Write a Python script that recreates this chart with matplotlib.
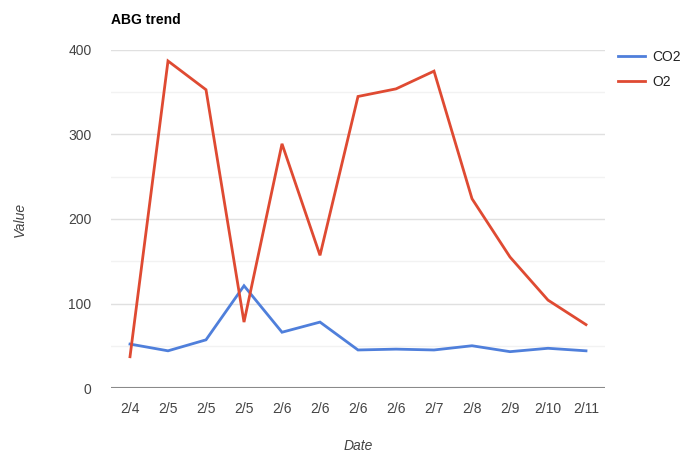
import matplotlib
matplotlib.use("Agg")
import matplotlib.pyplot as plt
from matplotlib.lines import Line2D

plt.rcParams['font.family'] = ['Liberation Sans', 'DejaVu Sans']

dates = ["2/4", "2/5", "2/5", "2/5", "2/6", "2/6", "2/6", "2/6", "2/7", "2/8", "2/9", "2/10", "2/11"]
co2 = [52, 44, 57, 121, 66, 78, 45, 46, 45, 50, 43, 47, 44]
o2 = [37, 387, 353, 78, 289, 157, 345, 354, 375, 224, 155, 104, 75]

blue = "#4f7fdb"
red = "#df4a32"

fig = plt.figure(figsize=(6.8, 4.58), dpi=100)
ax = fig.add_axes([111/680, 1-388/458, (605-111)/680, (388-50)/458])

x = list(range(len(dates)))
ax.plot(x, co2, color=blue, lw=2, solid_joinstyle='miter', zorder=3)
ax.plot(x, o2, color=red, lw=2, solid_joinstyle='miter', zorder=3)

ax.set_xlim(-0.5, len(dates) - 0.5)
ax.set_ylim(0, 400)
for v in [50, 150, 250, 350]:
    ax.axhline(v, color="#f2f2f2", lw=1, zorder=1)
for v in [100, 200, 300, 400]:
    ax.axhline(v, color="#e0e0e0", lw=1, zorder=1)
ax.axhline(0, color="#8a8a8a", lw=1.5, zorder=2)

for s in ax.spines.values():
    s.set_visible(False)
ax.set_yticks([0, 100, 200, 300, 400])
ax.set_xticks(x)
ax.set_xticklabels(dates)
ax.tick_params(axis='both', length=0, labelsize=10, labelcolor="#444444")
ax.tick_params(axis='y', pad=14)
ax.tick_params(axis='x', pad=10)

fig.text(358/680, 1-446/458, "Date", fontsize=10, style='italic', color="#444444",
         ha='center', va='center')
ax.set_ylabel("Value", fontsize=10, style='italic', color="#444444", labelpad=30)

fig.text(111/680, 1-20/458, "ABG trend", fontsize=10, fontweight='bold', color="#000000", va='center')

handles = [Line2D([], [], color=blue, lw=2), Line2D([], [], color=red, lw=2)]
fig.legend(handles, ["CO2", "O2"], loc='upper left', bbox_to_anchor=(612/680, 1-44/458),
           frameon=False, fontsize=10, handlelength=2.0, handletextpad=0.5,
           labelspacing=0.8, labelcolor="#222222", borderaxespad=0)

fig.savefig("out.png", dpi=100)
